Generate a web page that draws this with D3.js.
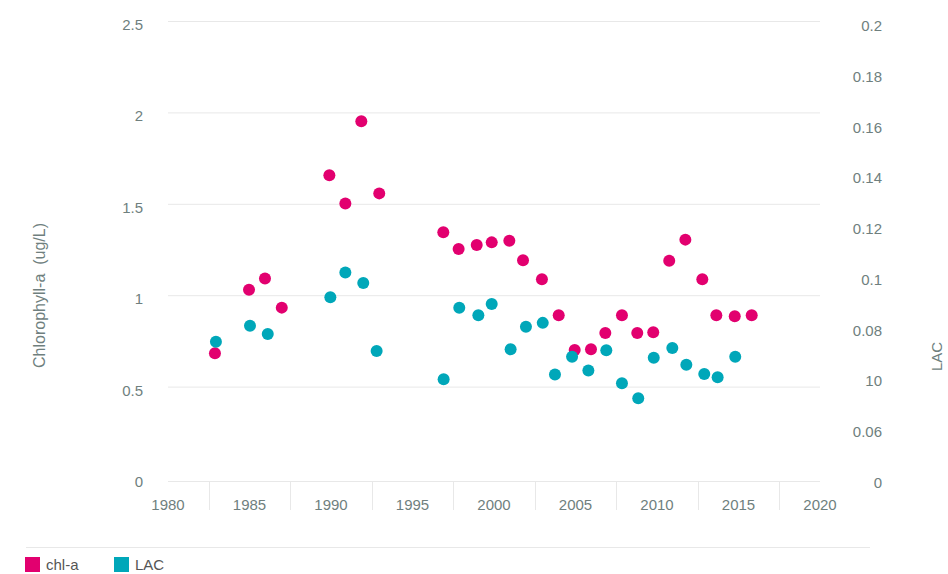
<!DOCTYPE html>
<html>
<head>
<meta charset="utf-8">
<script src="https://cdn.jsdelivr.net/npm/d3@7/dist/d3.min.js"></script>
<style>
  html, body { margin: 0; padding: 0; background: #fff; }
  svg { display: block; font-family: "Liberation Sans", Arial, Helvetica, sans-serif; }
</style>
</head>
<body>
<svg id="chart" width="948" height="574"></svg>
<script>
// ---- data ----
const chlYears = [1982.88, 1984.97, 1985.95, 1986.98, 1989.90, 1990.88, 1991.86, 1992.96,
  1996.89, 1997.83, 1998.94, 1999.86, 2000.94, 2001.78, 2002.94, 2003.97, 2004.95, 2005.95,
  2006.83, 2007.85, 2008.79, 2009.77, 2010.75, 2011.74, 2012.78, 2013.64, 2014.77, 2015.81];
const chlValues = [0.682, 1.030, 1.092, 0.932, 1.656, 1.501, 1.951, 1.557,
  1.344, 1.253, 1.275, 1.289, 1.298, 1.191, 1.087, 0.890, 0.700, 0.704,
  0.793, 0.890, 0.793, 0.797, 1.189, 1.304, 1.087, 0.890, 0.885, 0.890];

const lacYears = [1982.94, 1985.03, 1986.12, 1989.96, 1990.88, 1991.98, 1992.80,
  1996.91, 1997.87, 1999.04, 1999.86, 2001.02, 2001.96, 2002.99, 2003.74, 2004.79, 2005.79,
  2006.89, 2007.85, 2008.85, 2009.80, 2010.94, 2011.80, 2012.90, 2013.72, 2014.80];
const lacValues = [0.0737, 0.0800, 0.0767, 0.0912, 0.1009, 0.0968, 0.0700,
  0.0589, 0.0871, 0.0841, 0.0885, 0.0707, 0.0796, 0.0811, 0.0608, 0.0678, 0.0623,
  0.0703, 0.0573, 0.0514, 0.0674, 0.0712, 0.0646, 0.0610, 0.0597, 0.0678];

const xTicks = [1980, 1985, 1990, 1995, 2000, 2005, 2010, 2015, 2020];
const leftTicks = [0, 0.5, 1, 1.5, 2, 2.5];
const rightTickValues = [0.2, 0.18, 0.16, 0.14, 0.12, 0.1, 0.08, 0.06, 0.04, 0.02];
const rightTickLabels = ["0.2", "0.18", "0.16", "0.14", "0.12", "0.1", "0.08", "10", "0.06", "0"];
const seriesNames = ["chl-a", "LAC"];
const seriesColors = ["#e2006f", "#00a7b9"];

// ---- layout ----
const svg = d3.select("#chart");
const pLeft = 168, pRight = 820, pTop = 21, pBottom = 478;
const textColor = "#6f7f7e";
const gridColor = "#e8e8e8";

const x = d3.scaleLinear().domain([1980, 2020]).range([pLeft, pRight]);
const yL = d3.scaleLinear().domain([0, 2.5]).range([pBottom, pTop]);
const yR = d3.scaleLinear().domain([0.02, 0.2]).range([pBottom, pTop]);

// gridlines (zero line replaced by the axis line)
svg.append("g").selectAll("line").data(leftTicks.filter(d => d !== 0)).join("line")
  .attr("x1", pLeft).attr("x2", pRight)
  .attr("y1", d => yL(d) + 0.5).attr("y2", d => yL(d) + 0.5)
  .attr("stroke", gridColor).attr("stroke-width", 1);

// x axis baseline
svg.append("line").attr("x1", pLeft).attr("x2", pRight)
  .attr("y1", pBottom + 3.5).attr("y2", pBottom + 3.5)
  .attr("stroke", gridColor);

// x axis tick separators between labels
const sepVals = xTicks.slice(0, -1).map(d => d + 2.5);
svg.append("g").selectAll("line").data(sepVals).join("line")
  .attr("x1", d => Math.round(x(d)) + 0.5).attr("x2", d => Math.round(x(d)) + 0.5)
  .attr("y1", pBottom + 3).attr("y2", pBottom + 32)
  .attr("stroke", gridColor);

// x labels
svg.append("g").selectAll("text").data(xTicks).join("text")
  .attr("x", d => x(d)).attr("y", 510)
  .attr("text-anchor", "middle")
  .attr("font-size", 15).attr("fill", textColor)
  .text(d => d);

// left labels
svg.append("g").selectAll("text").data(leftTicks).join("text")
  .attr("x", 143).attr("y", d => yL(d) + 9)
  .attr("text-anchor", "end")
  .attr("font-size", 15).attr("fill", textColor)
  .text(d => d);

// right labels
svg.append("g").selectAll("text").data(rightTickValues).join("text")
  .attr("x", 882).attr("y", d => yR(d) + 10)
  .attr("text-anchor", "end")
  .attr("font-size", 15).attr("fill", textColor)
  .text((d, i) => rightTickLabels[i]);

// axis titles
svg.append("text")
  .attr("transform", `translate(45,${(pTop + pBottom) / 2 + 46}) rotate(-90)`)
  .attr("text-anchor", "middle")
  .attr("font-size", 16).attr("fill", textColor)
  .style("white-space", "pre")
  .text("Chlorophyll-a  (ug/L)");

svg.append("text")
  .attr("transform", `translate(942,${(pTop + pBottom) / 2 + 107}) rotate(-90)`)
  .attr("text-anchor", "middle")
  .attr("font-size", 15).attr("fill", textColor)
  .text("LAC");

// points
svg.append("g").selectAll("circle").data(chlYears.map((d, i) => [d, chlValues[i]])).join("circle")
  .attr("cx", d => x(d[0])).attr("cy", d => yL(d[1])).attr("r", 6)
  .attr("fill", seriesColors[0]);

svg.append("g").selectAll("circle").data(lacYears.map((d, i) => [d, lacValues[i]])).join("circle")
  .attr("cx", d => x(d[0])).attr("cy", d => yR(d[1])).attr("r", 6)
  .attr("fill", seriesColors[1]);

// legend
svg.append("line").attr("x1", 26).attr("x2", 870).attr("y1", 547.5).attr("y2", 547.5)
  .attr("stroke", gridColor);
const legX = [25, 114];
const leg = svg.append("g").selectAll("g").data(seriesNames).join("g")
  .attr("transform", (d, i) => `translate(${legX[i]},557)`);
leg.append("rect").attr("width", 15).attr("height", 15)
  .attr("fill", (d, i) => seriesColors[i]);
leg.append("text").attr("x", 21).attr("y", 13)
  .attr("font-size", 15).attr("fill", "#555")
  .text(d => d);
</script>
</body>
</html>
